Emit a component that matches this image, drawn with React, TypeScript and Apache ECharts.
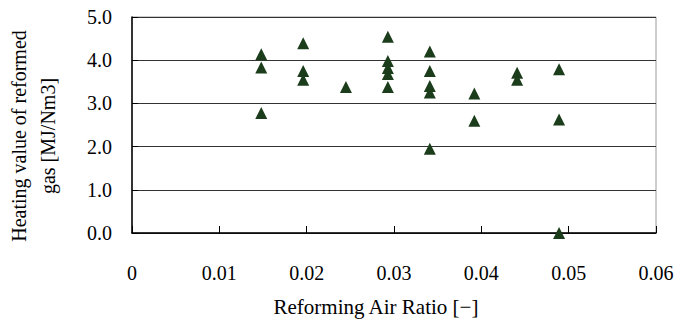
import React, { useEffect, useRef } from "react";
import * as echarts from "echarts";

const airRatio: number[] = [
  0.0148, 0.0148, 0.0148,
  0.0196, 0.0196, 0.0196,
  0.0245,
  0.0293, 0.0293, 0.0293, 0.0293, 0.0293,
  0.0341, 0.0341, 0.0341, 0.0341, 0.0341,
  0.0392, 0.0392,
  0.0441, 0.0441,
  0.0489, 0.0489, 0.0489,
];
const heatingValue: number[] = [
  4.14, 3.83, 2.78,
  4.39, 3.75, 3.55,
  3.38,
  4.54, 3.98, 3.82, 3.68, 3.38,
  4.2, 3.75, 3.4, 3.25, 1.95,
  3.23, 2.6,
  3.71, 3.55,
  3.79, 2.63, 0.0,
];
const xTitle = "Reforming Air Ratio [\u2212]";
const yTitle = "Heating value of reformed\ngas [MJ/Nm3]";

const FONT = "Liberation Serif";

export default function App() {
  const ref = useRef<HTMLDivElement>(null);
  useEffect(() => {
    if (!ref.current) return;
    const chart = echarts.init(ref.current, null, { renderer: "svg" });
    const data = airRatio.map((x, i) => [x, heatingValue[i]]);
    chart.setOption({
      animation: false,
      backgroundColor: "#ffffff",
      grid: {
        left: 132,
        right: 25,
        top: 17,
        bottom: 92,
        containLabel: false,
        outerBoundsMode: "none",
        show: true,
        borderColor: "#9a9a9a",
        borderWidth: 1,
      },
      xAxis: {
        type: "value",
        min: 0,
        max: 0.06,
        interval: 0.01,
        name: xTitle,
        nameLocation: "middle",
        nameGap: 63,
        nameTextStyle: { fontFamily: FONT, fontSize: 21, color: "#000", padding: [0, 36, 0, 0] },
        axisLine: { show: true, lineStyle: { color: "#000", width: 1.5 } },
        axisTick: { show: true, inside: true, length: 7, lineStyle: { color: "#000" } },
        splitLine: { show: false },
        axisLabel: {
          fontFamily: FONT,
          fontSize: 20,
          color: "#000",
          margin: 30,
          formatter: (v: number) => (v === 0 ? "0" : v.toFixed(2)),
        },
      },
      yAxis: {
        type: "value",
        min: 0,
        max: 5,
        interval: 1,
        name: yTitle,
        nameLocation: "middle",
        nameGap: 70,
        nameTextStyle: { fontFamily: FONT, fontSize: 20, color: "#000", lineHeight: 29, padding: [0, 22, 0, 0] },
        axisLine: { show: true, lineStyle: { color: "#000", width: 1.5 } },
        axisTick: { show: true, inside: true, length: 6, lineStyle: { color: "#000" } },
        splitLine: { show: true, lineStyle: { color: "#333", width: 1 } },
        axisLabel: {
          fontFamily: FONT,
          fontSize: 20,
          color: "#000",
          margin: 20,
          formatter: (v: number) => v.toFixed(1),
        },
      },
      series: [
        {
          type: "scatter",
          data,
          symbol: "triangle",
          symbolSize: 12,
          itemStyle: { color: "#1b3d1b", opacity: 1 },
        },
      ],
    });
    return () => chart.dispose();
  }, []);
  return (
    <div
      ref={ref}
      style={{ position: "absolute", left: 0, top: 0, width: 681, height: 325 }}
    />
  );
}
